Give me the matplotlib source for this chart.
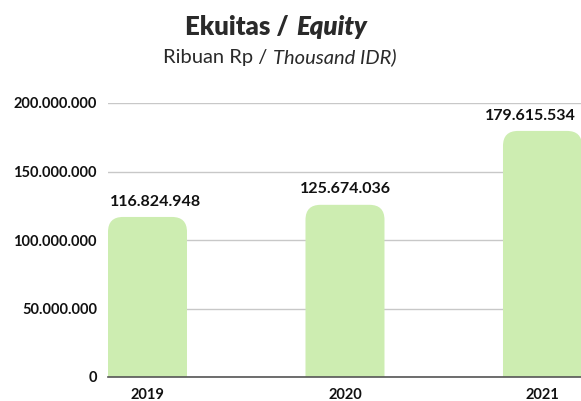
import matplotlib
matplotlib.use("Agg")
import matplotlib.pyplot as plt
from matplotlib.path import Path
from matplotlib.patches import PathPatch
from matplotlib.ticker import FuncFormatter

# ---- data ----
years = ["2019", "2020", "2021"]
equity = [116824948, 125674036, 179615534]
yticks = [0, 50000000, 100000000, 150000000, 200000000]

FONT = ["Lato", "DejaVu Sans"]
plt.rcParams["font.family"] = FONT

W, H, DPI = 581, 401, 100
fig = plt.figure(figsize=(W / DPI, H / DPI), dpi=DPI)
fig.patch.set_facecolor("white")

left_px, right_px, bottom_px, top_px = 108, 581, 377, 103
ax = fig.add_axes([left_px / W, (H - bottom_px) / H,
                   (right_px - left_px) / W, (bottom_px - top_px) / H])

xs = list(range(len(years)))
bw = 0.4
ax.set_xlim(-0.2, 2.195)
ax.set_ylim(0, 200000000)

bars = ax.bar(xs, equity, width=bw, color="#cdedb1")

# rounded tops
ax_w_px = right_px - left_px
ax_h_px = bottom_px - top_px
pxx = ax_w_px / (ax.get_xlim()[1] - ax.get_xlim()[0])
pxy = ax_h_px / (ax.get_ylim()[1] - ax.get_ylim()[0])
r = 15
rx, ry = r / pxx, r / pxy
for b in bars:
    x0 = b.get_x(); x1 = x0 + b.get_width(); h = b.get_height()
    verts = [(x0, 0), (x0, h - ry), (x0, h), (x0 + rx, h), (x1 - rx, h),
             (x1, h), (x1, h - ry), (x1, 0), (x0, 0)]
    codes = [Path.MOVETO, Path.LINETO, Path.CURVE3, Path.CURVE3, Path.LINETO,
             Path.CURVE3, Path.CURVE3, Path.LINETO, Path.CLOSEPOLY]
    ax.add_patch(PathPatch(Path(verts, codes), facecolor=b.get_facecolor(),
                           edgecolor="none", zorder=2))
    b.set_visible(False)

label_dx_pt = [6, 0, -9]
for x, v, dx in zip(xs, equity, label_dx_pt):
    ax.annotate(f"{v:,}".replace(",", "."), (x, v), xytext=(dx, 6),
                textcoords="offset points", ha="center", va="bottom",
                fontsize=11.5, fontweight="bold", color="#111111")

ax.set_yticks(yticks)
ax.yaxis.set_major_formatter(FuncFormatter(lambda v, p: f"{int(v):,}".replace(",", ".")))
ax.set_xticks(xs)
ax.set_xticklabels(years)
ax.tick_params(axis="both", length=0)
ax.tick_params(axis="y", pad=8, labelsize=10.5, labelcolor="#111111")
ax.tick_params(axis="x", pad=8, labelsize=10.5, labelcolor="#111111")
for lab in ax.get_yticklabels() + ax.get_xticklabels():
    lab.set_fontweight("bold")

ax.yaxis.grid(True, color="#c8c8c8", lw=1)
ax.set_axisbelow(True)
for s in ["top", "right", "left"]:
    ax.spines[s].set_visible(False)
ax.spines["bottom"].set_color("#555555")
ax.spines["bottom"].set_linewidth(1.2)
ax.spines["bottom"].set_zorder(3)
ax.patch.set_alpha(0)


def mixed(parts, cx_px, base_px, size):
    renderer = fig.canvas.get_renderer()
    gap = size * DPI / 72 * 0.27
    ts = []
    for txt, weight, style in parts:
        t = fig.text(0, 0, txt, fontsize=size, fontweight=weight, fontstyle=style,
                     color="#2a2a2a", va="baseline", ha="left")
        ts.append(t)
    widths = [t.get_window_extent(renderer).width for t in ts]
    total = sum(widths) + gap * (len(ts) - 1)
    x = cx_px - total / 2
    for t, w in zip(ts, widths):
        t.set_position((x / W, (H - base_px) / H))
        x += w + gap


fig.canvas.draw()
mixed([("Ekuitas /", "heavy", "normal"),
       ("Equity", "heavy", "italic")], 276, 35, 18.5)
mixed([("Ribuan Rp /", "normal", "normal"),
       ("Thousand IDR)", "normal", "italic")], 280, 63, 14.5)

fig.savefig("out.png", dpi=DPI)
